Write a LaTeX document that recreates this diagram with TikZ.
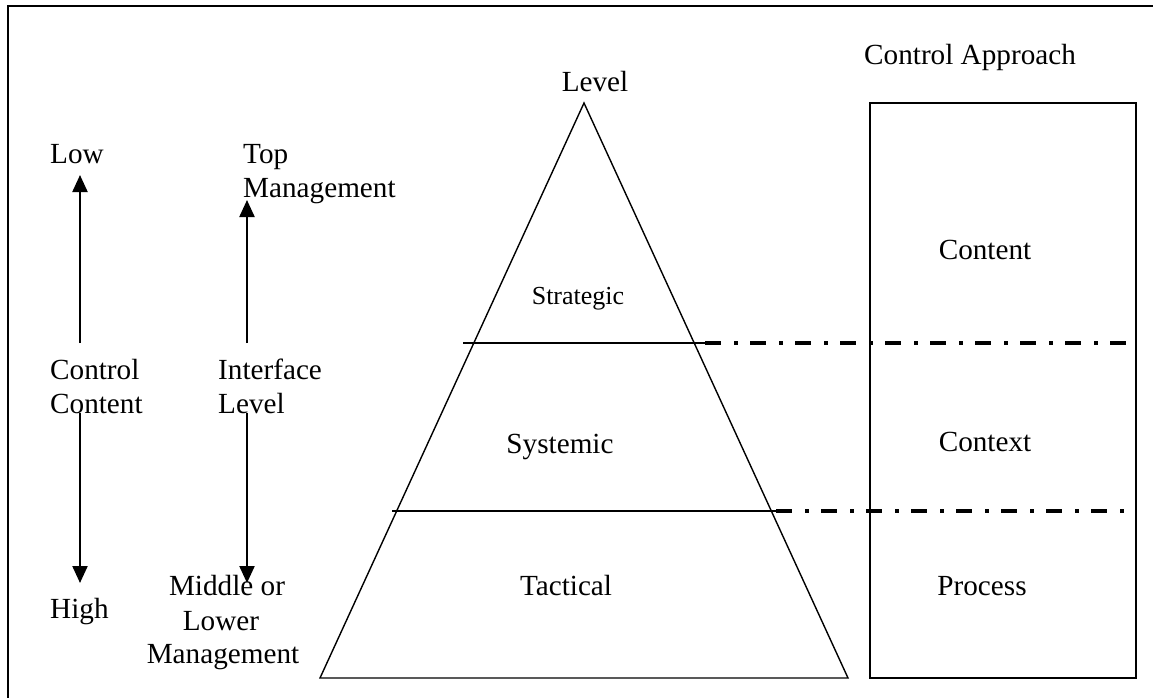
\documentclass[tikz,border=0pt]{standalone}
\usepackage{fontspec}
\setmainfont{Liberation Serif}
\usetikzlibrary{arrows.meta}
\begin{document}
\begin{tikzpicture}[x=1pt,y=-1pt,
  lbl/.style={inner sep=0pt,font=\fontsize{29.2}{34}\selectfont},
  lblsmall/.style={inner sep=0pt,font=\fontsize{26}{30}\selectfont},
  frame/.style={line width=2.2pt},
  tri/.style={line width=1.4pt},
  divider/.style={line width=1.4pt},
  dashdot/.style={line width=3.6pt,dash pattern=on 16pt off 13pt on 4pt off 12pt},
  arr/.style={line width=2.2pt,-{Triangle[length=17pt,width=15pt]}}]
\useasboundingbox (0,0) rectangle (1153,698);
% outer frame (top and left only)
\draw[frame] (8,698) -- (8,6) -- (1153,6);
% pyramid
\coordinate (apex) at (584,103);
\coordinate (bl) at (320,678);
\coordinate (br) at (848,678);
\draw[tri] (apex) -- (bl) -- (br) -- cycle;
% dividers
\coordinate (d1a) at (463,343);
\coordinate (d1b) at (705,343);
\coordinate (d1c) at (1133,343);
\coordinate (d2a) at (392,511);
\coordinate (d2b) at (776,511);
\coordinate (d2c) at (1136,511);
\draw[divider] (d1a) -- (d1b);
\draw[dashdot] (d1b) -- (d1c);
\draw[divider] (d2a) -- (d2b);
\draw[dashdot] (d2b) -- (d2c);
% control approach box
\draw[frame] (870,103) rectangle (1136,678);
% texts
\node[lbl,anchor=base] (level) at (595,92) {Level};
\node[lbl,anchor=base west] (capp) at (864,65) {Control Approach};
\node[lbl,anchor=base west] (low) at (50,163) {Low};
\node[lbl,anchor=base west] (top) at (243,163) {Top};
\node[lbl,anchor=base west] (topm) at (243,197) {Management};
\node[lbl,anchor=base west] (ctrl) at (50,379) {Control};
\node[lbl,anchor=base west] (cont) at (50,413) {Content};
\node[lbl,anchor=base west] (intf) at (218,379) {Interface};
\node[lbl,anchor=base west] (intl) at (218,413) {Level};
\node[lbl,anchor=base west] (high) at (50,618) {High};
\node[lbl,anchor=base] (mid) at (227,595) {Middle or};
\node[lbl,anchor=base] (lower) at (221,630) {Lower};
\node[lbl,anchor=base] (mgmt) at (223,663) {Management};
\node[lblsmall,anchor=base] (strat) at (578,304) {Strategic};
\node[lbl,anchor=base] (syst) at (560,453) {Systemic};
\node[lbl,anchor=base] (tact) at (566,595) {Tactical};
\node[lbl,anchor=base] (content) at (985,259) {Content};
\node[lbl,anchor=base] (context) at (985,451) {Context};
\node[lbl,anchor=base] (process) at (982,595) {Process};
% arrows
\coordinate (a1s) at (80,343);
\coordinate (a1e) at (80,175);
\coordinate (a2s) at (247,343);
\coordinate (a2e) at (247,200);
\coordinate (a3s) at (80,413);
\coordinate (a3e) at (80,583);
\coordinate (a4s) at (247,413);
\coordinate (a4e) at (247,583);
\draw[arr] (a1s) -- (a1e);
\draw[arr] (a2s) -- (a2e);
\draw[arr] (a3s) -- (a3e);
\draw[arr] (a4s) -- (a4e);
\end{tikzpicture}
\end{document}
